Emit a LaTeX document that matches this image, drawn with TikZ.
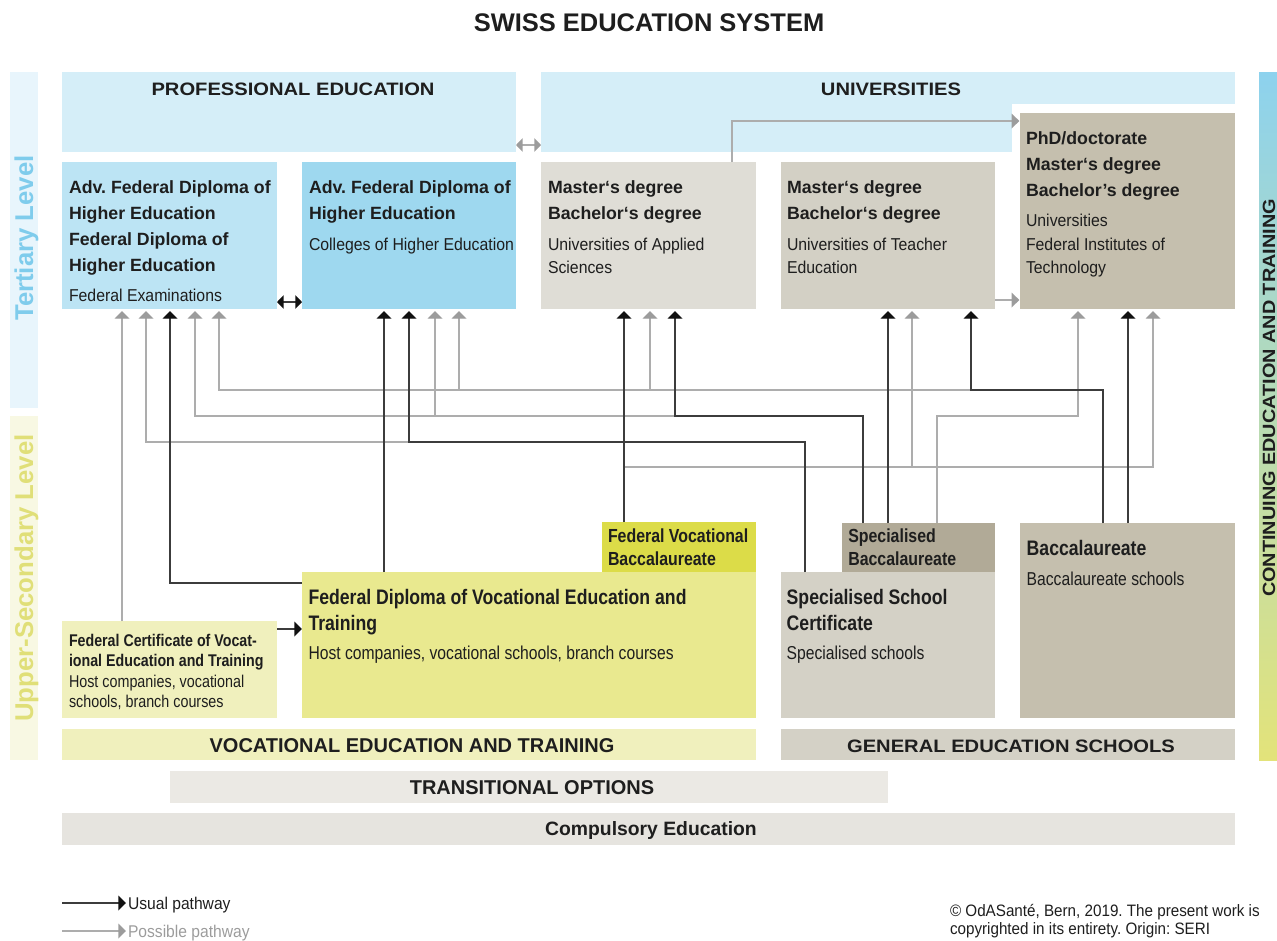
\documentclass[tikz,border=0pt]{standalone}
\usepackage{fontspec}
\setmainfont{Liberation Sans}
\newfontfamily\nfont{Liberation Sans}[FakeStretch=0.84]
\newfontfamily\tfont{Liberation Sans}[FakeStretch=0.92]
\newfontfamily\wfont{Liberation Sans}[FakeStretch=1.12]
\usetikzlibrary{arrows.meta,fit,calc}
\newcommand\fsz[2]{\fontsize{#1}{#2}\selectfont}
\newcommand\mylines[1]{\begin{tabular}[t]{@{}l@{}}#1\end{tabular}}
\definecolor{tertBar}{HTML}{E8F5FC}
\definecolor{tertText}{HTML}{7FCCEC}
\definecolor{upBar}{HTML}{F8F8E3}
\definecolor{upText}{HTML}{E0DF78}
\definecolor{hdr}{HTML}{D5EEF8}
\definecolor{boxA}{HTML}{BCE4F4}
\definecolor{boxB}{HTML}{9ED8EF}
\definecolor{boxC}{HTML}{DFDDD6}
\definecolor{boxD}{HTML}{D3D0C5}
\definecolor{boxE}{HTML}{C5BFAE}
\definecolor{fvbC}{HTML}{DCDC48}
\definecolor{dipC}{HTML}{E9E98F}
\definecolor{certC}{HTML}{F0F0BD}
\definecolor{sbC}{HTML}{B1AA97}
\definecolor{sscC}{HTML}{D4D1C6}
\definecolor{transC}{HTML}{EBE9E4}
\definecolor{compC}{HTML}{E6E4DF}
\definecolor{contTop}{HTML}{8DD2EE}
\definecolor{contBot}{HTML}{E3E37A}
\definecolor{usualC}{HTML}{3C3C3C}
\definecolor{usualTip}{HTML}{111111}
\definecolor{possC}{HTML}{ADADAD}
\definecolor{possTip}{HTML}{9C9C9C}
\definecolor{txtC}{HTML}{1E1E1E}
\frenchspacing
\begin{document}
\begin{tikzpicture}[x=0.75pt,y=-0.75pt,
  area/.style={inner sep=0pt, outer sep=0pt, draw=none},
  txt/.style={inner sep=0pt, outer sep=0pt, anchor=base west, align=left, text=txtC},
  ctr/.style={inner sep=0pt, outer sep=0pt, anchor=base, text=txtC},
  tb/.style={txt, font=\frenchspacing\bfseries\fsz{13.3pt}{19.5pt}},
  tr/.style={txt, font=\frenchspacing\tfont\fsz{12.9pt}{17.5pt}},
  ub/.style={txt, font=\nfont\bfseries\fsz{15.75pt}{19.3pt}},
  ur/.style={txt, font=\nfont\fsz{14pt}{19pt}},
  sbold/.style={txt, font=\nfont\bfseries\fsz{14.2pt}{17.25pt}},
  hd/.style={ctr, font=\wfont\bfseries\fsz{13.5pt}{16pt}},
  bd/.style={ctr, font=\bfseries\fsz{15pt}{17pt}},
  side/.style={inner sep=0pt, anchor=base, rotate=90, font=\bfseries\fsz{19.3pt}{21pt}},
  usual/.style={draw=usualC, line width=1.1pt, -{Triangle[width=11pt,length=5.8pt,color=usualTip]}, shorten >=1.5pt},
  possible/.style={draw=possC, line width=1.1pt, -{Triangle[width=11pt,length=5.8pt,color=possTip]}, shorten >=1.5pt},
]
\useasboundingbox (0,0) rectangle (1277,940);

% title
\node[ctr, font=\bfseries\fsz{19.1pt}{22pt}] (title) at (649,31) {SWISS EDUCATION SYSTEM};

% side bars
\node[area, fill=tertBar, fit={(10,72) (38,408)}] (tbar) {};
\node[area, fill=upBar, fit={(10,416) (38,760)}] (ubar) {};
\node[side, text=tertText] (tlab) at (33,238) {Tertiary Level};
\node[side, text=upText] (ulab) at (33,578) {Upper-Secondary Level};
\shade[top color=contTop, bottom color=contBot] (1259,72) rectangle (1290,760);
\node[inner sep=0pt, anchor=base, rotate=90, text=txtC, font=\wfont\bfseries\fsz{13.3pt}{16pt}] (cont) at (1275,398) {CONTINUING EDUCATION AND TRAINING};

% headers
\node[area, fill=hdr, fit={(62,72) (516,152)}] (PE) {};
\node[area, fill=hdr, fit={(541,72) (1012,152)}] (UNI) {};
\node[area, fill=hdr, fit={(1011,72) (1235,104)}] (UNIr) {};
\node[hd] (petxt) at (293,95) {PROFESSIONAL EDUCATION};
\node[hd] (unitxt) at (891,95) {UNIVERSITIES};

% tertiary boxes
\node[area, fill=boxA, fit={(62,162) (277,309)}] (A) {};
\node[area, fill=boxB, fit={(302,162) (516,309)}] (B) {};
\node[area, fill=boxC, fit={(541,162) (756,309)}] (C) {};
\node[area, fill=boxD, fit={(781,162) (995,309)}] (D) {};
\node[area, fill=boxE, fit={(1020,113) (1235,309)}] (E) {};

\node[tb] (Ab) at (69,193.3) {\mylines{Adv. Federal Diploma of\\Higher Education\\Federal Diploma of\\Higher Education}};
\node[tr] (Ar) at (69,301.7) {Federal Examinations};
\node[tb] (Bb) at (309,193.3) {\mylines{Adv. Federal Diploma of\\Higher Education}};
\node[tr] (Br) at (309,250) {Colleges of Higher Education};
\node[tb] (Cb) at (548,193.3) {\mylines{Master‘s degree\\Bachelor‘s degree}};
\node[tr] (Cr) at (548,250) {\mylines{Universities of Applied\\Sciences}};
\node[tb] (Db) at (787,193.3) {\mylines{Master‘s degree\\Bachelor‘s degree}};
\node[tr] (Dr) at (787,250) {\mylines{Universities of Teacher\\Education}};
\node[tb] (Eb) at (1026,144.3) {\mylines{PhD/doctorate\\Master‘s degree\\Bachelor's degree}};
\node[tr] (Er) at (1026,226.7) {\mylines{Universities\\Federal Institutes of\\Technology}};

% upper-secondary boxes
\node[area, fill=fvbC, fit={(602,522) (756,572)}] (fvb) {};
\node[area, fill=dipC, fit={(302,572) (756,718)}] (dip) {};
\node[area, fill=certC, fit={(62,621) (277,718)}] (cert) {};
\node[area, fill=sbC, fit={(842,523) (995,572)}] (sb) {};
\node[area, fill=sscC, fit={(781,572) (995,718)}] (ssc) {};
\node[area, fill=boxE, fit={(1020,523) (1235,718)}] (bac) {};

\node[sbold] (fvbt) at (608,542.3) {\mylines{Federal Vocational\\Baccalaureate}};
\node[sbold] (sbt) at (848.3,542.3) {\mylines{Specialised\\Baccalaureate}};
\node[ub] (dipb) at (308.5,604.3) {\mylines{Federal Diploma of Vocational Education and\\Training}};
\node[ur] (dipr) at (308.5,659) {Host companies, vocational schools, branch courses};
\node[ub] (sscb) at (786.7,604.3) {\mylines{Specialised School\\Certificate}};
\node[ur] (sscr) at (786.7,659) {Specialised schools};
\node[ub] (bacb) at (1026.7,555) {Baccalaureate};
\node[ur] (bacr) at (1026.7,585) {Baccalaureate schools};
\node[txt, font=\nfont\bfseries\fsz{12.7pt}{14.5pt}] (certb) at (69,646.7) {\mylines{Federal Certificate of Vocat-\\ional Education and Training}};
\node[txt, font=\nfont\fsz{12.8pt}{14.8pt}] (certr) at (69,687.3) {\mylines{Host companies, vocational\\schools, branch courses}};

% bands
\node[area, fill=certC, fit={(62,729) (756,760)}] (vet) {};
\node[area, fill=sscC, fit={(781,729) (1235,760)}] (ges) {};
\node[area, fill=transC, fit={(170,771) (888,803)}] (trans) {};
\node[area, fill=compC, fit={(62,813) (1235,845)}] (comp) {};
\node[bd] (vettxt) at (412,752.7) {VOCATIONAL EDUCATION AND TRAINING};
\node[hd] (gestxt) at (1011,752.3) {GENERAL EDUCATION SCHOOLS};
\node[bd] (transtxt) at (532,794) {TRANSITIONAL OPTIONS};
\node[ctr, font=\bfseries\fsz{14.5pt}{17pt}] (comptxt) at (651,835.3) {Compulsory Education};

% possible pathways (grey)
\draw[possible] (122,0|-cert.north) -- (122,0|-A.south);
\draw[possible] (805,0|-ssc.north) -- (805,442) -- (146,442) -- (146,0|-A.south);
\draw[possible] (863,0|-sb.north) -- (863,416) -- (195,416) -- (195,0|-A.south);
\draw[possible] (435,416) -- (435,0|-B.south);
\draw[possible] (1103,0|-bac.north) -- (1103,390) -- (219,390) -- (219,0|-A.south);
\draw[possible] (459,390) -- (459,0|-B.south);
\draw[possible] (650,390) -- (650,0|-C.south);
\draw[possible] (624,0|-fvb.north) -- (624,467) -- (1153,467) -- (1153,0|-E.south);
\draw[possible] (912,467) -- (912,0|-D.south);
\draw[possible] (937,0|-sb.north) -- (937,416) -- (1078,416) -- (1078,0|-E.south);
\draw[possible, shorten >=0.5pt] (732,0|-C.north) -- (732,121) -- (E.west|-0,121);
\draw[possible, shorten >=0.5pt] (D.east|-0,300) -- (E.west|-0,300);
\draw[draw=possC, line width=1.1pt, {Triangle[width=10pt,length=5pt,color=possTip]}-{Triangle[width=10pt,length=5pt,color=possTip]}] (PE.east|-0,145) -- (UNI.west|-0,145);

% usual pathways (black)
\draw[usual] (624,0|-fvb.north) -- (624,0|-C.south);
\draw[usual] (863,0|-sb.north) -- (863,416) -- (675,416) -- (675,0|-C.south);
\draw[usual] (888,0|-sb.north) -- (888,0|-D.south);
\draw[usual] (1103,0|-bac.north) -- (1103,390) -- (971,390) -- (971,0|-D.south);
\draw[usual] (1128,0|-bac.north) -- (1128,0|-E.south);
\draw[usual] (384,0|-dip.north) -- (384,0|-B.south);
\draw[usual] (805,0|-ssc.north) -- (805,442) -- (409,442) -- (409,0|-B.south);
\draw[usual] (dip.west|-0,583) -- (170,583) -- (170,0|-A.south);
\draw[usual, shorten >=0pt] (cert.east|-0,629) -- (dip.west|-0,629);
\draw[draw=usualC, line width=1.1pt, {Triangle[width=10pt,length=5pt,color=usualTip]}-{Triangle[width=10pt,length=5pt,color=usualTip]}] (A.east|-0,302) -- (B.west|-0,302);

% legend
\coordinate (l1s) at (62,903);
\coordinate (l1e) at (126,903);
\coordinate (l2s) at (62,931);
\coordinate (l2e) at (126,931);
\draw[usual, shorten >=0pt] (l1s) -- (l1e);
\draw[possible, shorten >=0pt] (l2s) -- (l2e);
\node[txt, font=\tfont\fsz{12.75pt}{15pt}] (l1t) at (128,909) {Usual pathway};
\node[txt, font=\tfont\fsz{12.75pt}{15pt}, text=possTip] (l2t) at (128,937) {Possible pathway};
\node[txt, font=\tfont\fsz{12.4pt}{13.5pt}] (copy) at (950,916) {\mylines{© OdASanté, Bern, 2019. The present work is\\copyrighted in its entirety. Origin: SERI}};
\end{tikzpicture}
\end{document}
